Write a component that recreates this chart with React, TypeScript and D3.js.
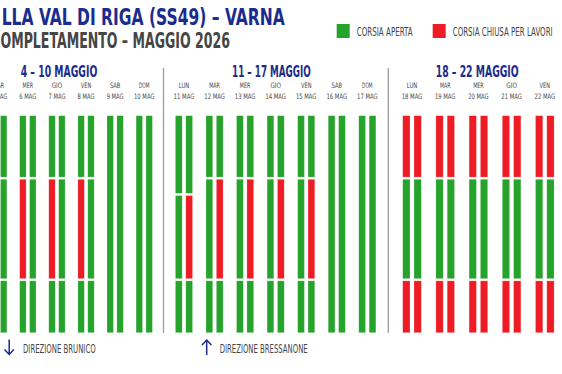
import React from "react";
import * as d3 from "d3";

// --- data ---
const weekTitles = ["4 – 10 MAGGIO", "11 – 17 MAGGIO", "18 – 22 MAGGIO"];
const dayNames = [
  "LUN", "MAR", "MER", "GIO", "VEN", "SAB", "DOM",
  "LUN", "MAR", "MER", "GIO", "VEN", "SAB", "DOM",
  "LUN", "MAR", "MER", "GIO", "VEN",
];
const dayDates = [4, 5, 6, 7, 8, 9, 10, 11, 12, 13, 14, 15, 16, 17, 18, 19, 20, 21, 22];
const dayWeek = [0, 0, 0, 0, 0, 0, 0, 1, 1, 1, 1, 1, 1, 1, 2, 2, 2, 2, 2];
// section breaks along the road (0 = top, 100 = bottom)
const dayCuts: number[][] = [
  [28.8, 75.6], [28.8, 75.6], [28.8, 75.6], [28.8, 75.6], [28.8, 75.6], [], [],
  [36.3, 75.6], [28.8, 75.6], [28.8, 75.6], [28.8, 75.6], [28.8, 75.6], [], [],
  [28.8, 75.6], [28.8, 75.6], [28.8, 75.6], [28.8, 75.6], [28.8, 75.6],
];
// A = corsia aperta, C = corsia chiusa, one letter per section
const leftLane = [
  "ACA", "ACA", "ACA", "ACA", "ACA", "A", "A",
  "AAA", "AAA", "AAA", "AAA", "AAA", "A", "A",
  "CAC", "CAC", "CAC", "CAC", "CAC",
];
const rightLane = [
  "AAA", "AAA", "AAA", "AAA", "AAA", "A", "A",
  "ACA", "ACA", "ACA", "ACA", "ACA", "A", "A",
  "CAC", "CAC", "CAC", "CAC", "CAC",
];
const legendItems = [
  { key: "A", label: "CORSIA APERTA" },
  { key: "C", label: "CORSIA CHIUSA PER LAVORI" },
];

const W = 562;
const H = 374;
const GREEN = "#25a32a";
const RED = "#ee1d25";
const NAVY = "#1b2c8c";
const GREY = "#454545";
const FONT = "'Liberation Sans Narrow', 'DejaVu Sans Condensed', 'Roboto', sans-serif";
const colorOf = (k: string) => (k === "C" ? RED : GREEN);

// horizontal extent of each week block (the first one runs off the left edge)
const weekRanges: [number, number][] = [
  [-44.9, 158.8],
  [168.7, 382.6],
  [395.4, 561.4],
];
const weekTitleX = [59, 271.4, 477.2];
const weekTitleW = [76.6, 78.7, 83];
const separatorsX = [163.5, 388.3];

const y = d3.scaleLinear().domain([0, 100]).range([115.7, 332.7]);

const Txt = ({ x, y, w, size, fill, weight = 400, anchor = "start", children }: any) => (
  <text
    x={x}
    y={y}
    fontSize={size}
    fontWeight={weight}
    fill={fill}
    textAnchor={anchor}
    textLength={w}
    lengthAdjust="spacingAndGlyphs"
    fontFamily={FONT}
  >
    {children}
  </text>
);

export default function App() {
  const weekScales = weekTitles.map((_, wi) => {
    const ids = dayDates.filter((_, i) => dayWeek[i] === wi);
    return d3.scaleBand<number>().domain(ids).range(weekRanges[wi]);
  });

  const days = dayDates.map((date, i) => {
    const xs = weekScales[dayWeek[i]];
    const step = xs.step();
    const cx = (xs(date) as number) + xs.bandwidth() / 2;
    const lanes = d3
      .scaleBand<string>()
      .domain(["L", "R"])
      .range([cx - step * 0.28, cx + step * 0.28])
      .paddingInner(0.353);
    const bounds = [0, ...dayCuts[i], 100];
    const segs: any[] = [];
    [["L", leftLane[i]], ["R", rightLane[i]]].forEach(([lane, states]) => {
      for (let s = 0; s < bounds.length - 1; s++) {
        const y0 = y(bounds[s]) + (s > 0 ? 1.1 : 0);
        const y1 = y(bounds[s + 1]) - (s < bounds.length - 2 ? 1.1 : 0);
        segs.push({
          x: lanes(lane) as number,
          w: lanes.bandwidth(),
          y: y0,
          h: y1 - y0,
          c: colorOf(states[s]),
        });
      }
    });
    return { cx, date, name: dayNames[i], segs };
  });

  return (
    <svg
      width={W}
      height={H}
      style={{ position: "fixed", left: 0, top: 0, background: "#fff" }}
    >
      <rect width={W} height={H} fill="#fff" />
      <Txt x={1.7} y={25} w={283} size={23} weight={700} fill={NAVY}>
        LLA VAL DI RIGA (SS49) – VARNA
      </Txt>
      <Txt x={0.5} y={48.3} w={229.5} size={20.5} weight={700} fill={GREY}>
        OMPLETAMENTO – MAGGIO 2026
      </Txt>

      {legendItems.map((it, i) => (
        <g key={it.key}>
          <rect x={[336.7, 432.7][i]} y={24} width={13} height={14} fill={colorOf(it.key)} />
          <Txt x={[356.7, 452.7][i]} y={35.8} w={[56, 100][i]} size={11.8} fill={GREY}>
            {it.label}
          </Txt>
        </g>
      ))}

      {weekTitles.map((t, i) => (
        <Txt key={t} x={weekTitleX[i]} y={76.5} w={weekTitleW[i]} size={15} weight={700} fill={NAVY} anchor="middle">
          {t}
        </Txt>
      ))}

      {separatorsX.map((sx) => (
        <line key={sx} x1={sx} x2={sx} y1={68} y2={333} stroke="#9c9c9c" strokeWidth={1.3} />
      ))}

      {days.map((d) => (
        <g key={d.date}>
          <Txt x={d.cx} y={88.3} w={10.5} size={7.5} fill={GREY} anchor="middle">
            {d.name}
          </Txt>
          <Txt x={d.cx} y={99} w={String(d.date).length > 1 ? 20.5 : 17} size={7.5} fill={GREY} anchor="middle">
            {`${d.date} MAG`}
          </Txt>
          {d.segs.map((s: any, k: number) => (
            <rect
              key={k}
              x={s.x}
              y={s.y}
              width={s.w}
              height={s.h}
              fill={s.c}
              stroke="#ffffff"
              strokeOpacity={0.35}
              strokeWidth={0.6}
            />
          ))}
        </g>
      ))}

      <g stroke={NAVY} strokeWidth={1.5} fill="none">
        <path d="M9.2,339.5 V354.5 M4.5,349.5 L9.2,354.5 L13.9,349.5" />
        <path d="M206.7,355 V340 M202,345 L206.7,340 L211.4,345" />
      </g>
      <Txt x={23} y={353.3} w={72.7} size={13} fill={GREY}>
        DIREZIONE BRUNICO
      </Txt>
      <Txt x={219.7} y={353.3} w={88} size={13} fill={GREY}>
        DIREZIONE BRESSANONE
      </Txt>
    </svg>
  );
}
